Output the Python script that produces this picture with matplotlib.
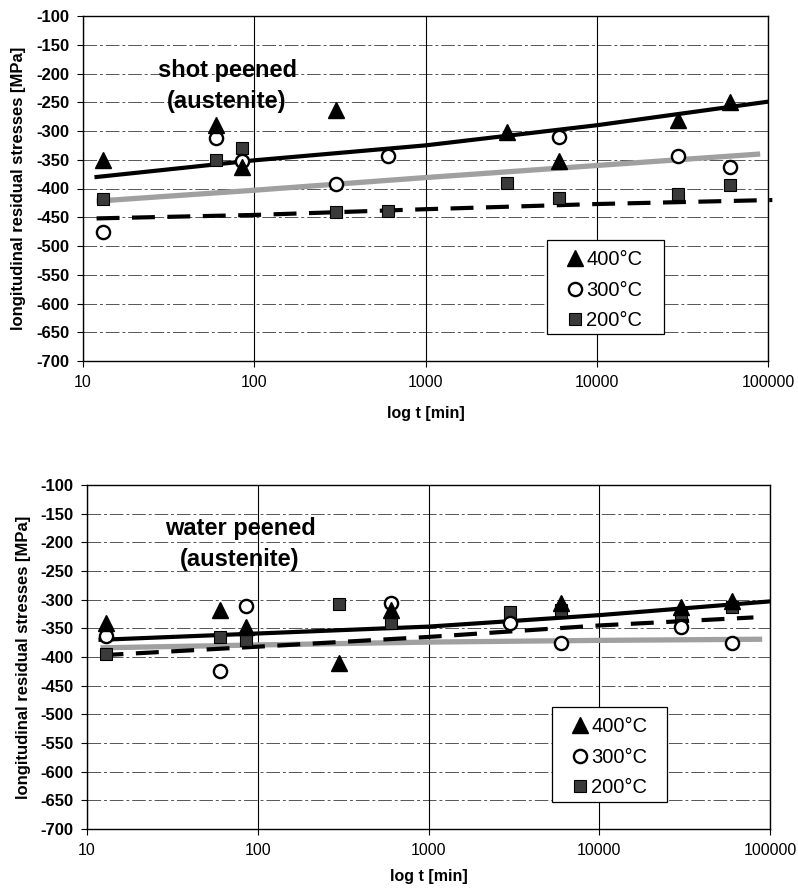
import numpy as np
import matplotlib
matplotlib.use('Agg')
import matplotlib.pyplot as plt
from matplotlib.lines import Line2D
from matplotlib.patches import Rectangle

plt.rcParams['font.family'] = ['Liberation Sans', 'DejaVu Sans']

# ---------------- data ----------------
# shot peened (austenite)
sp_400_t = [13, 60, 85, 300, 3000, 6000, 30000, 60000]
sp_400 = [-350, -290, -362, -263, -302, -353, -281, -249]
sp_300_t = [13, 60, 85, 300, 600, 6000, 30000, 60000]
sp_300 = [-475, -312, -353, -393, -344, -311, -343, -362]
sp_200_t = [13, 60, 85, 300, 600, 3000, 6000, 30000, 60000]
sp_200 = [-419, -350, -330, -441, -439, -391, -416, -410, -394]

sp_400_trend_t = [12, 100, 1000, 10000, 100000]
sp_400_trend = [-380, -351, -325, -290, -249]
sp_300_trend_t = [12, 100, 1000, 10000, 90000]
sp_300_trend = [-422, -403, -381, -360, -340]
sp_200_trend_t = [12, 100, 1000, 10000, 106000]
sp_200_trend = [-452, -446, -436, -427, -420]

# water peened (austenite)
wp_400_t = [13, 60, 85, 300, 600, 6000, 30000, 60000]
wp_400 = [-341, -318, -347, -410, -318, -306, -312, -303]
wp_300_t = [13, 60, 85, 600, 3000, 6000, 30000, 60000]
wp_300 = [-363, -424, -311, -305, -340, -376, -347, -376]
wp_200_t = [13, 60, 85, 300, 600, 3000, 6000, 30000, 60000]
wp_200 = [-394, -365, -370, -308, -340, -321, -318, -324, -312]

wp_400_trend_t = [12, 100, 1000, 10000, 100000]
wp_400_trend = [-370, -359, -347, -327, -303]
wp_300_trend_t = [12, 100, 1000, 10000, 90000]
wp_300_trend = [-384, -379, -374, -371, -369]
wp_200_trend_t = [12, 100, 1000, 10000, 80000]
wp_200_trend = [-397, -382, -365, -345, -331]

y_ticks = list(range(-700, -99, 50))
y_ticklabels = [str(v) for v in y_ticks]
x_ticks = [10, 100, 1000, 10000, 100000]
x_ticklabels = ['10', '100', '1000', '10000', '100000']
legend_labels = ['400°C', '300°C', '200°C']
y_label = 'longitudinal residual stresses [MPa]'
x_label = 'log t [min]'

# ---------------- figure ----------------
fig = plt.figure(figsize=(7.98, 8.93), dpi=100)
W, H = 798, 893


def px_axes(l, t, r, b):
    return fig.add_axes([l / W, 1 - b / H, (r - l) / W, (b - t) / H])


tri_kw = dict(marker='^', color='black', markersize=12, linestyle='none', zorder=5)
cir_kw = dict(marker='o', markerfacecolor='white', markeredgecolor='black',
              markeredgewidth=1.7, markersize=9.5, linestyle='none', zorder=5)
sq_kw = dict(marker='s', markerfacecolor='#3a3a3a', markeredgecolor='black',
             markeredgewidth=0.8, markersize=8.5, linestyle='none', zorder=5)


def draw_panel(ax, box, d400, d300, d200, tr400, tr300, tr200, title, title_px,
               legend_box_px, legend_anchor_px, ylab_px, xlab_py):
    l, t, r, b = box

    def ax_xy(px, py):
        return ((px - l) / (r - l), 1 - (py - t) / (b - t))

    ax.set_xscale('log')
    ax.set_xlim(10, 100000)
    ax.set_ylim(-700, -100)
    ax.set_yticks(y_ticks)
    ax.set_yticklabels(y_ticklabels, fontweight='bold', fontsize=12)
    ax.set_xticks(x_ticks)
    ax.set_xticklabels(x_ticklabels, fontsize=11.5)
    ax.minorticks_off()
    ax.tick_params(axis='both', direction='out', length=4, width=0.8, pad=6)
    for y in y_ticks:
        ax.axhline(y, color='#555555', lw=0.7, ls=(0, (14, 3, 3, 3)), zorder=1)
    for x in x_ticks:
        ax.axvline(x, color='black', lw=0.8, zorder=1)
    for s in ax.spines.values():
        s.set_linewidth(1.0)
        s.set_color('black')

    # trend lines
    ax.plot(tr300[0], tr300[1], color='#a0a0a0', lw=3.8, solid_capstyle='butt', zorder=3)
    ax.plot(tr200[0], tr200[1], color='black', lw=3.0, ls=(0, (5.5, 3.0)),
            zorder=3, clip_on=False)
    ax.plot(tr400[0], tr400[1], color='black', lw=3.0, zorder=3)

    # data points
    ax.plot(d200[0], d200[1], **sq_kw)
    ax.plot(d300[0], d300[1], **cir_kw)
    ax.plot(d400[0], d400[1], **tri_kw)

    tx, ty = ax_xy(*title_px)
    ax.text(tx, ty, title, transform=ax.transAxes,
            ha='center', va='center', fontsize=17, fontweight='bold',
            linespacing=1.45, zorder=6)

    # legend frame
    bl, bt, br, bb = legend_box_px
    x0, y1 = ax_xy(bl, bt)
    x1, y0 = ax_xy(br, bb)
    ax.add_patch(Rectangle((x0, y0), x1 - x0, y1 - y0, transform=ax.transAxes,
                           facecolor='white', edgecolor='black', lw=0.9,
                           zorder=6, clip_on=False))
    handles = [Line2D([], [], **tri_kw), Line2D([], [], **cir_kw),
               Line2D([], [], **sq_kw)]
    leg = ax.legend(handles, legend_labels, loc='upper left',
                    bbox_to_anchor=ax_xy(*legend_anchor_px), fontsize=14.5,
                    frameon=False, handlelength=0.9, handletextpad=0.1,
                    labelspacing=0.58, borderpad=0, borderaxespad=0)
    leg.set_zorder(7)

    ax.set_ylabel(y_label, fontsize=12, fontweight='bold', va='center')
    ax.yaxis.set_label_coords(ax_xy(ylab_px, 0)[0], 0.5)
    ax.set_xlabel(x_label, fontsize=11.5, fontweight='bold', va='center')
    ax.xaxis.set_label_coords(0.5, ax_xy(0, xlab_py)[1])


box1 = (83, 16, 768, 361)
ax1 = px_axes(*box1)
draw_panel(ax1, box1,
           (sp_400_t, sp_400), (sp_300_t, sp_300), (sp_200_t, sp_200),
           (sp_400_trend_t, sp_400_trend), (sp_300_trend_t, sp_300_trend),
           (sp_200_trend_t, sp_200_trend),
           'shot peened\n(austenite)', (227, 86),
           (547, 240, 664, 334), (566, 250), 19, 414)

box2 = (87, 485, 770, 829)
ax2 = px_axes(*box2)
draw_panel(ax2, box2,
           (wp_400_t, wp_400), (wp_300_t, wp_300), (wp_200_t, wp_200),
           (wp_400_trend_t, wp_400_trend), (wp_300_trend_t, wp_300_trend),
           (wp_200_trend_t, wp_200_trend),
           'water peened\n(austenite)', (240, 544),
           (552, 707, 667, 802), (571, 717), 24, 877)

fig.savefig('out.png', dpi=100)
